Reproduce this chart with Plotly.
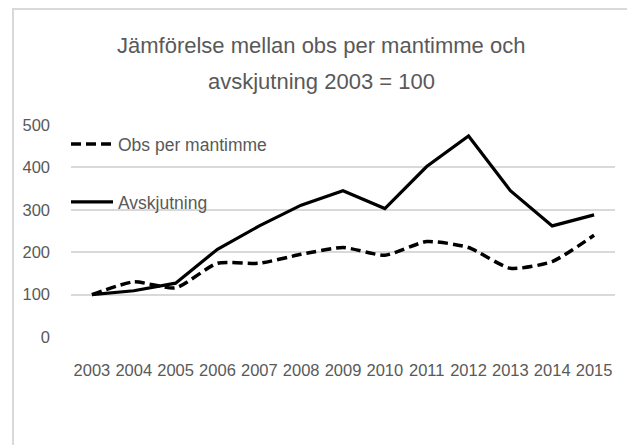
import plotly.graph_objects as go

years = ["2003", "2004", "2005", "2006", "2007", "2008", "2009",
         "2010", "2011", "2012", "2013", "2014", "2015"]
obs_per_mantimme = [100, 130, 116, 174, 174, 195, 211, 193, 225, 211, 162, 178, 240]
avskjutning = [100, 109, 127, 207, 262, 311, 345, 303, 402, 474, 345, 262, 288]
y_ticks = [0, 100, 200, 300, 400, 500]
title_lines = ["Jämförelse mellan obs per mantimme och", "avskjutning 2003 = 100"]

TEXT = "#595959"
GRID = "#d9d9d9"
FONT = "Liberation Sans, Arial, sans-serif"

# the page places the figure 8px in from the top-left corner
OFF = 8
W, H = 635 - OFF, 445 - OFF
L, R, T, B = 71 - OFF, 20, 125 - OFF, 445 - 337
pw, ph = W - L - R, H - T - B


def px_x(p):
    return (p - OFF - L) / pw


def px_y(p):
    return (H - B - (p - OFF)) / ph


fig = go.Figure()
fig.add_trace(go.Scatter(
    x=years, y=obs_per_mantimme, name="Obs per mantimme", mode="lines",
    line=dict(color="black", width=3.5, dash="10px,5px", shape="spline", smoothing=0.6),
    legend="legend",
))
fig.add_trace(go.Scatter(
    x=years, y=avskjutning, name="Avskjutning", mode="lines",
    line=dict(color="black", width=3.2),
    legend="legend2",
))

fig.update_layout(
    width=W, height=H,
    margin=dict(l=L, r=R, t=T, b=B),
    paper_bgcolor="white", plot_bgcolor="white",
    xaxis=dict(
        type="category", range=[-0.5, len(years) - 0.5],
        showgrid=False, zeroline=False, showline=False, ticks="",
        tickfont=dict(family=FONT, size=16.5, color=TEXT),
        tickangle=0, ticklabelstandoff=21,
        fixedrange=True,
    ),
    yaxis=dict(
        range=[0, 500], tickvals=y_ticks, showgrid=True, gridcolor=GRID, gridwidth=2,
        zeroline=False, showline=False, ticks="",
        tickfont=dict(family=FONT, size=16.5, color=TEXT),
        ticklabelstandoff=20,
        fixedrange=True,
    ),
    legend=dict(
        x=px_x(66), y=px_y(144), xanchor="left", yanchor="middle",
        bgcolor="rgba(0,0,0,0)", borderwidth=0,
        font=dict(family=FONT, size=17.5, color=TEXT), itemwidth=42,
    ),
    legend2=dict(
        x=px_x(66), y=px_y(202), xanchor="left", yanchor="middle",
        bgcolor="rgba(0,0,0,0)", borderwidth=0,
        font=dict(family=FONT, size=17.5, color=TEXT), itemwidth=42,
    ),
    showlegend=True,
)

# two-line chart title, centred on the chart area
for text, ypx in zip(title_lines, [46, 81]):
    fig.add_annotation(
        text=text, xref="paper", yref="paper",
        x=px_x(321), y=px_y(ypx), xanchor="center", yanchor="middle",
        showarrow=False, font=dict(family=FONT, size=22, color=TEXT),
    )

# chart area border (light grey frame around the whole chart)
fig.add_shape(
    type="rect", xref="paper", yref="paper",
    x0=px_x(13), x1=px_x(633), y0=px_y(470), y1=px_y(9),
    line=dict(color=GRID, width=2), fillcolor="rgba(0,0,0,0)", layer="above",
)

fig.write_html("out.html")
